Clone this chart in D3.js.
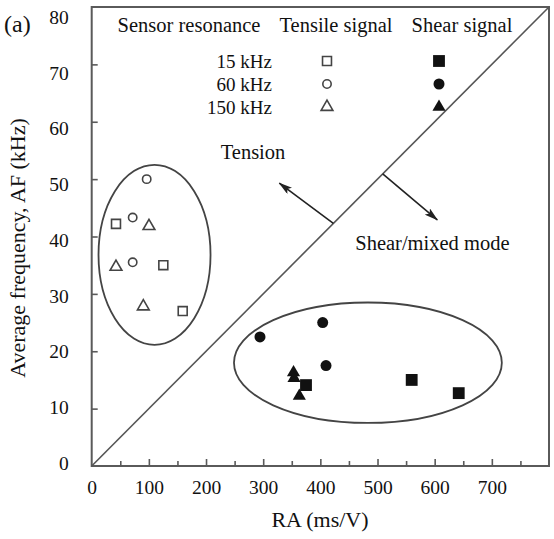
<!DOCTYPE html>
<html><head><meta charset="utf-8">
<script src="https://cdn.jsdelivr.net/npm/d3@7"></script>
<style>body{margin:0;background:#fff}svg{display:block}svg text{font-family:"Liberation Serif","Tinos","Times New Roman",Times,"DejaVu Serif","Noto Serif",serif !important;fill:#111}</style>
</head><body>
<svg id="chart" width="554" height="539"></svg>
<script>
// ---- data (RA in ms/V, AF in kHz) ----
const xTickLabels = [0, 100, 200, 300, 400, 500, 600, 700];
const yTickLabels = [0, 10, 20, 30, 40, 50, 60, 70, 80];
const xTickMarks = [50,100,150,200,250,300,350,400,450,500,550,600,650,700,750];
const yTickMarks = [10,20,30,40,50,60,70];
const sensors = ["15 kHz", "60 kHz", "150 kHz"];
const columnHeads = ["Sensor resonance", "Tensile signal", "Shear signal"];
// tensile (open) signals
const tensile15 = [[42.5, 42.2], [125.3, 35.0], [159.2, 27.0]];
const tensile60 = [[96.2, 50.0], [71.7, 43.3], [71.7, 35.5]];
const tensile150 = [[100.2, 41.8], [42.5, 34.7], [90.3, 27.8]];
// shear (filled) signals
const shear15 = [[374.9, 14.1], [559.8, 15.0], [642.1, 12.7]];
const shear60 = [[294.4, 22.5], [404.1, 25.0], [409.9, 17.5]];
const shear150 = [[353.1, 16.3], [354.0, 15.3], [363.2, 12.2]];
// grouping ellipses [cx, cy, rx, ry] in data units
const ellipseTensile = [109.9, 36.8, 98, 15.7];
const ellipseShear = [483.2, 18.0, 234.3, 10.5];
// classification line AF = RA/10
const divider = [[0, 0], [800, 80]];

const FONT = "'Liberation Serif','Tinos','Times New Roman',Times,'DejaVu Serif',serif";
const svg = d3.select("#chart");
const L = 91.7, R = 549, T = 7, B = 466;
const x = d3.scaleLinear().domain([0, 800]).range([L, R]);
const y = d3.scaleLinear().domain([0, 80]).range([B, T]);
const yLab = d3.scaleLinear().domain([0, 80]).range([463, 17]);

const ink = "#222", frame = "#5a5a5a";

// frame
svg.append("rect").attr("x", L).attr("y", T).attr("width", R - L).attr("height", B - T)
  .attr("fill", "none").attr("stroke", frame).attr("stroke-width", 2);

// x tick marks (inward)
const gxt = svg.append("g").attr("transform", `translate(0,${B})`)
  .call(d3.axisBottom(x).tickValues(xTickMarks).tickSize(-6).tickFormat(""));
gxt.select(".domain").remove();
gxt.selectAll(".tick line").attr("stroke", frame).attr("stroke-width", 1.6)
  .attr("y2", d => d % 100 === 0 ? -7 : -5);
// x tick labels
const gxl = svg.append("g").attr("transform", `translate(0,${B})`)
  .call(d3.axisBottom(x).tickValues(xTickLabels).tickSize(0).tickPadding(14.5));
gxl.select(".domain").remove();
gxl.attr("font-family", FONT);
gxl.selectAll("text").attr("font-size", 19.5).attr("fill", "#111");

// y tick marks
const gyt = svg.append("g").attr("transform", `translate(${L},0)`)
  .call(d3.axisLeft(y).tickValues(yTickMarks).tickSize(-6).tickFormat(""));
gyt.select(".domain").remove();
gyt.selectAll(".tick line").attr("stroke", frame).attr("stroke-width", 1.6);
// y tick labels
const gyl = svg.append("g").attr("transform", `translate(${L},0)`)
  .call(d3.axisLeft(yLab).tickValues(yTickLabels).tickSize(0).tickPadding(23));
gyl.select(".domain").remove();
gyl.attr("font-family", FONT);
gyl.selectAll("text").attr("font-size", 19.5).attr("fill", "#111");

const txt = (sel) => sel.attr("font-family", FONT);

// axis titles
txt(svg.append("text")).attr("x", 320).attr("y", 519).attr("dy", "0.35em")
  .attr("text-anchor", "middle").attr("font-size", 22).text("RA (ms/V)");
txt(svg.append("text")).attr("transform", "translate(17,248) rotate(-90)").attr("dy", "0.35em")
  .attr("text-anchor", "middle").attr("font-size", 22).text("Average frequency, AF (kHz)");
txt(svg.append("text")).attr("x", 4).attr("y", 24).attr("dy", "0.35em")
  .attr("font-size", 24).text("(a)");

// divider line
svg.append("line").attr("x1", x(divider[0][0])).attr("y1", y(divider[0][1]))
  .attr("x2", x(divider[1][0])).attr("y2", y(divider[1][1]))
  .attr("stroke", "#555").attr("stroke-width", 1.6);

// arrows
const defs = svg.append("defs");
defs.append("marker").attr("id", "ah").attr("viewBox", "0 0 14 8").attr("refX", 13).attr("refY", 4)
  .attr("markerWidth", 14).attr("markerHeight", 8).attr("markerUnits", "userSpaceOnUse").attr("orient", "auto")
  .append("path").attr("d", "M0,0 L14,4 L0,8 L3,4 Z").attr("fill", ink);
const arrows = [[[422.7, 42.27], [328.2, 49.3]], [[509.1, 50.91], [604.6, 42.9]]];
arrows.forEach(a => {
  svg.append("line").attr("x1", x(a[0][0])).attr("y1", y(a[0][1]))
    .attr("x2", x(a[1][0])).attr("y2", y(a[1][1]))
    .attr("stroke", ink).attr("stroke-width", 1.6).attr("marker-end", "url(#ah)");
});
txt(svg.append("text")).attr("x", x(282.2)).attr("y", y(54.8)).attr("dy", "0.35em")
  .attr("text-anchor", "middle").attr("font-size", 20.5).text("Tension");
txt(svg.append("text")).attr("x", x(596)).attr("y", y(38.9)).attr("dy", "0.35em")
  .attr("text-anchor", "middle").attr("font-size", 20.5).text("Shear/mixed mode");

// ellipses
[ellipseTensile, ellipseShear].forEach(e => {
  svg.append("ellipse").attr("cx", x(e[0])).attr("cy", y(e[1]))
    .attr("rx", x(e[2]) - x(0)).attr("ry", y(0) - y(e[3]))
    .attr("fill", "none").attr("stroke", "#444").attr("stroke-width", 1.8);
});

// symbols
const openSym = [[d3.symbolSquare, 80], [d3.symbolCircle, 55], [d3.symbolTriangle, 60]];
const fillSym = [[d3.symbolSquare, 140], [d3.symbolCircle, 95], [d3.symbolTriangle, 75]];
function drawOpen(data, k) {
  svg.append("g").selectAll("path").data(data).join("path")
    .attr("transform", d => `translate(${x(d[0])},${y(d[1])})`)
    .attr("d", d3.symbol().type(openSym[k][0]).size(openSym[k][1]))
    .attr("fill", "#fff").attr("stroke", "#444").attr("stroke-width", 1.6);
}
function drawFill(data, k) {
  svg.append("g").selectAll("path").data(data).join("path")
    .attr("transform", d => `translate(${x(d[0])},${y(d[1])})`)
    .attr("d", d3.symbol().type(fillSym[k][0]).size(fillSym[k][1]))
    .attr("fill", "#111");
}
drawOpen(tensile15, 0); drawOpen(tensile60, 1); drawOpen(tensile150, 2);
drawFill(shear15, 0); drawFill(shear60, 1); drawFill(shear150, 2);

// legend
const headX = [189, 336, 462];
columnHeads.forEach((h, i) => {
  txt(svg.append("text")).attr("x", headX[i]).attr("y", 25).attr("dy", "0.35em")
    .attr("text-anchor", "middle").attr("font-size", 20.5).text(h);
});
const rowY = [61, 84, 107];
sensors.forEach((s, i) => {
  txt(svg.append("text")).attr("x", 272).attr("y", rowY[i]).attr("dy", "0.35em")
    .attr("text-anchor", "end").attr("font-size", 19).text(s);
  svg.append("path").attr("transform", `translate(327,${rowY[i]})`)
    .attr("d", d3.symbol().type(openSym[i][0]).size(openSym[i][1]))
    .attr("fill", "#fff").attr("stroke", "#444").attr("stroke-width", 1.6);
  svg.append("path").attr("transform", `translate(439,${rowY[i]})`)
    .attr("d", d3.symbol().type(fillSym[i][0]).size(fillSym[i][1]))
    .attr("fill", "#111");
});
</script>
</body></html>
